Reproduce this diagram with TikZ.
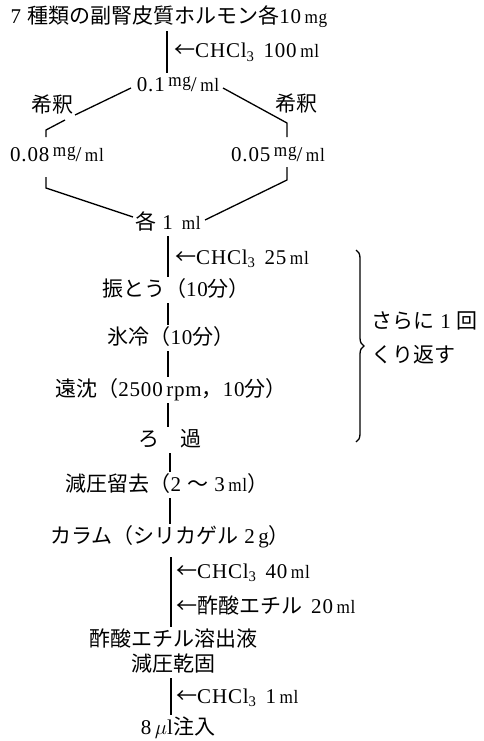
\documentclass[tikz,border=0pt]{standalone}
\usepackage{graphicx}
\usepackage{fontspec}
\setmainfont{Liberation Serif}[LetterSpace=4]
\newfontfamily\jp{Noto Sans CJK JP}
\usetikzlibrary{decorations.pathreplacing}
\newcommand\J[1]{{\jp #1}}
\newcommand\mlu{\scalebox{0.82}[0.9]{ml}}
\newcommand\mgu{\scalebox{0.82}[0.9]{mg}}
\newcommand\gp{\hspace{9pt}}
\begin{document}
\begin{tikzpicture}[x=1pt,y=-1pt,
  lbl/.style={inner sep=3pt, text height=16pt, text depth=4pt, font=\fontsize{21}{25}\selectfont},
  conn/.style={line width=1.3pt}]
\useasboundingbox (0,0) rectangle (484,741);
% nodes
\node[lbl] (title) at (169,18) {7 \J{種類の副腎皮質ホルモン各}10\,\mgu};
\node[lbl,anchor=west] (s1) at (171,52) {\J{←}CHCl\textsubscript{3}\gp 100\,\mlu};
\node[lbl] (c01) at (178,86) {0.1\,\raisebox{5pt}{\mgu}/\,\mlu};
\node[lbl] (dl) at (52,107) {\J{希釈}};
\node[lbl] (dr) at (296,106) {\J{希釈}};
\node[lbl] (c008) at (57,155) {0.08\,\raisebox{5pt}{\mgu}/\,\mlu};
\node[lbl] (c005) at (278,155) {0.05\,\raisebox{5pt}{\mgu}/\,\mlu};
\node[lbl] (each) at (168,223) {\J{各} 1\gp\mlu};
\node[lbl,anchor=west] (s2) at (172,258) {\J{←}CHCl\textsubscript{3}\gp 25\,\mlu};
\node[lbl] (shake) at (176,290) {\J{振とう（}10\J{分）}};
\node[lbl] (ice) at (171,338) {\J{氷冷（}10\J{分）}};
\node[lbl] (cent) at (171,390) {\J{遠沈（}2500\,rpm\J{，}10\J{分）}};
\node[lbl] (filt) at (170,440) {\J{ろ　過}};
\node[lbl] (evap) at (167,485) {\J{減圧留去（}2 \J{〜} 3\,\mlu\J{）}};
\node[lbl] (col) at (170,537) {\J{カラム（シリカゲル} 2\,g\J{）}};
\node[lbl,anchor=west] (s3) at (173,572) {\J{←}CHCl\textsubscript{3}\gp 40\,\mlu};
\node[lbl,anchor=west] (s4) at (173,607) {\J{←酢酸エチル}\gp 20\,\mlu};
\node[lbl] (elu) at (173,640) {\J{酢酸エチル溶出液}};
\node[lbl] (dry) at (173,665) {\J{減圧乾固}};
\node[lbl,anchor=west] (s5) at (173,697) {\J{←}CHCl\textsubscript{3}\gp 1\,\mlu};
\node[lbl] (inj) at (178,728) {8\,$\mu$l\J{注入}};
\node[lbl,anchor=west] (rep1) at (368,322) {\J{さらに} 1 \J{回}};
\node[lbl,anchor=west] (rep2) at (368,356) {\J{くり返す}};
% axis coordinates
\coordinate (ax1) at (167,0);
\coordinate (ax2) at (168,0);
\coordinate (ax3) at (170,0);
\coordinate (ax4) at (171,0);
% main connectors
\draw[conn] (title.south -| ax1) -- (c01.north -| ax1);
\draw[conn] (each.south -| ax2) -- (shake.north -| ax2);
\draw[conn] (shake.south -| ax2) -- (ice.north -| ax2);
\draw[conn] (ice.south -| ax2) -- (cent.north -| ax2);
\draw[conn] (cent.south -| ax2) -- (filt.north -| ax2);
\draw[conn] (filt.south -| ax3) -- (evap.north -| ax3);
\draw[conn] (evap.south -| ax3) -- (col.north -| ax3);
\draw[conn,shorten <=7pt] (col.south -| ax4) -- (elu.north -| ax4);
\draw[conn] (dry.south -| ax4) -- (inj.north -| ax4);
% dilution diamond
\coordinate (l0) at (131,88);
\coordinate (l1) at (75,115);
\coordinate (l2) at (65,120);
\coordinate (l3) at (46,130);
\coordinate (l4) at (46,137);
\coordinate (l5) at (46,177);
\coordinate (l6) at (46,188);
\coordinate (l7) at (133,217);
\coordinate (r0) at (223,88);
\coordinate (r1) at (287,123);
\coordinate (r2) at (287,137);
\coordinate (r3) at (287,167);
\coordinate (r4) at (287,180);
\coordinate (r5) at (205,220);
\draw[conn] (l0) -- (l1);
\draw[conn] (l2) -- (l3) -- (l4);
\draw[conn] (l5) -- (l6) -- (l7);
\draw[conn] (r0) -- (r1) -- (r2);
\draw[conn] (r3) -- (r4) -- (r5);
% brace
\coordinate (b0) at (356,250);
\coordinate (b1) at (356,442);
\draw[conn,decorate,decoration={brace,amplitude=8pt}] (b0) -- (b1);
\end{tikzpicture}
\end{document}
